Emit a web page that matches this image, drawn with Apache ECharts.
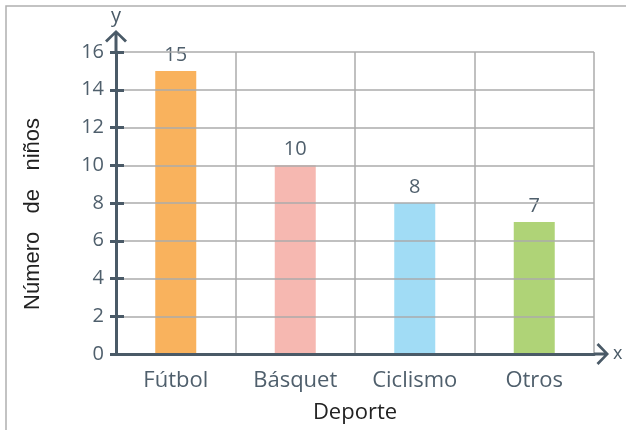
<!DOCTYPE html>
<html>
<head>
<meta charset="utf-8">
<script src="https://cdn.jsdelivr.net/npm/echarts@6/dist/echarts.min.js"></script>
<style>
  html, body { margin: 0; padding: 0; background: #fff; }
  #chart { width: 626px; height: 430px; }
</style>
</head>
<body>
<div id="chart"></div>
<script>
var categories = ['Fútbol', 'Básquet', 'Ciclismo', 'Otros'];
var ninos = [15, 10, 8, 7];
var barColors = ['#F9B25D', '#F6B8B1', '#A1DCF5', '#AFD377'];
var yMin = 0, yMax = 16, yStep = 2;

var axisColor = '#4A5A67';
var gridColor = '#ABABAB';

// open chevron + stem, tip pointing up
var arrowY = 'path://M11 0 L22 10.5 L20 12.5 L12.5 5 L12.5 22 L9.5 22 L9.5 5 L2 12.5 L0 10.5 Z';
var arrowX = 'path://M11 0 L22 10.5 L20 12.5 L12.5 5 L12.5 15 L9.5 15 L9.5 5 L2 12.5 L0 10.5 Z';

var chart = echarts.init(document.getElementById('chart'));

var option = {
    animation: false,
    graphic: [{
        type: 'rect',
        shape: { x: 6, y: 6, width: 700, height: 500 },
        style: { fill: 'none', stroke: '#B0B0B0', lineWidth: 1.5 },
        silent: true
    }],
    grid: { left: 116, right: 32, top: 52, bottom: 76, outerBoundsMode: 'none', containLabel: false },
    xAxis: [{
        type: 'category',
        data: categories,
        name: 'x',
        nameGap: 19,
        nameTextStyle: { color: axisColor, fontSize: 18, fontFamily: 'Open Sans', verticalAlign: 'middle' },
        axisLine: {
            lineStyle: { color: axisColor, width: 3 },
            symbol: ['none', arrowX],
            symbolSize: [22, 15],
            symbolOffset: [0, 7.5]
        },
        axisTick: { show: false },
        axisLabel: { color: '#4F5F6C', fontSize: 22, fontFamily: 'Open Sans', margin: 16 },
        splitLine: { show: true, lineStyle: { color: gridColor, width: 1.5 } },
        z: 3
    }, {
        type: 'category',
        data: categories,
        position: 'bottom',
        name: 'Deporte',
        nameLocation: 'middle',
        nameGap: 48,
        nameTextStyle: { color: '#222', fontSize: 22, fontFamily: 'Open Sans' },
        axisLine: { show: false },
        axisTick: { show: false },
        axisLabel: { show: false },
        splitLine: { show: false }
    }],
    yAxis: [{
        type: 'value',
        min: yMin,
        max: yMax,
        interval: yStep,
        name: 'y',
        nameGap: 26,
        nameTextStyle: { color: axisColor, fontSize: 20, fontFamily: 'Open Sans', align: 'center' },
        axisLine: {
            show: true,
            lineStyle: { color: axisColor, width: 3 },
            symbol: ['none', arrowY],
            symbolSize: [22, 22],
            symbolOffset: [0, 11]
        },
        axisTick: { show: true, length: 6, lineStyle: { color: axisColor, width: 3 } },
        axisLabel: { color: '#4F5F6C', fontSize: 20, fontFamily: 'Open Sans', margin: 12 },
        splitLine: { show: true, lineStyle: { color: gridColor, width: 1.5 } },
        z: 3
    }, {
        type: 'value',
        min: yMin,
        max: yMax,
        interval: yStep,
        position: 'left',
        name: 'Número   de   niños',
        nameLocation: 'middle',
        nameGap: 72,
        nameTextStyle: { color: '#222', fontSize: 22, fontFamily: 'Liberation Sans', padding: [0, 22, 0, 0] },
        axisLine: { show: false },
        axisTick: { show: true, inside: true, length: 8, lineStyle: { color: axisColor, width: 3 } },
        axisLabel: { show: false },
        splitLine: { show: false },
        z: 3
    }],
    series: [{
        type: 'bar',
        barWidth: 41,
        data: ninos.map(function (v, i) {
            return { value: v, itemStyle: { color: barColors[i] } };
        }),
        label: {
            show: true,
            position: 'top',
            distance: 6,
            color: '#4F5F6C',
            fontSize: 20,
            fontFamily: 'Open Sans'
        },
        z: 2
    }]
};

chart.setOption(option);
</script>
</body>
</html>
